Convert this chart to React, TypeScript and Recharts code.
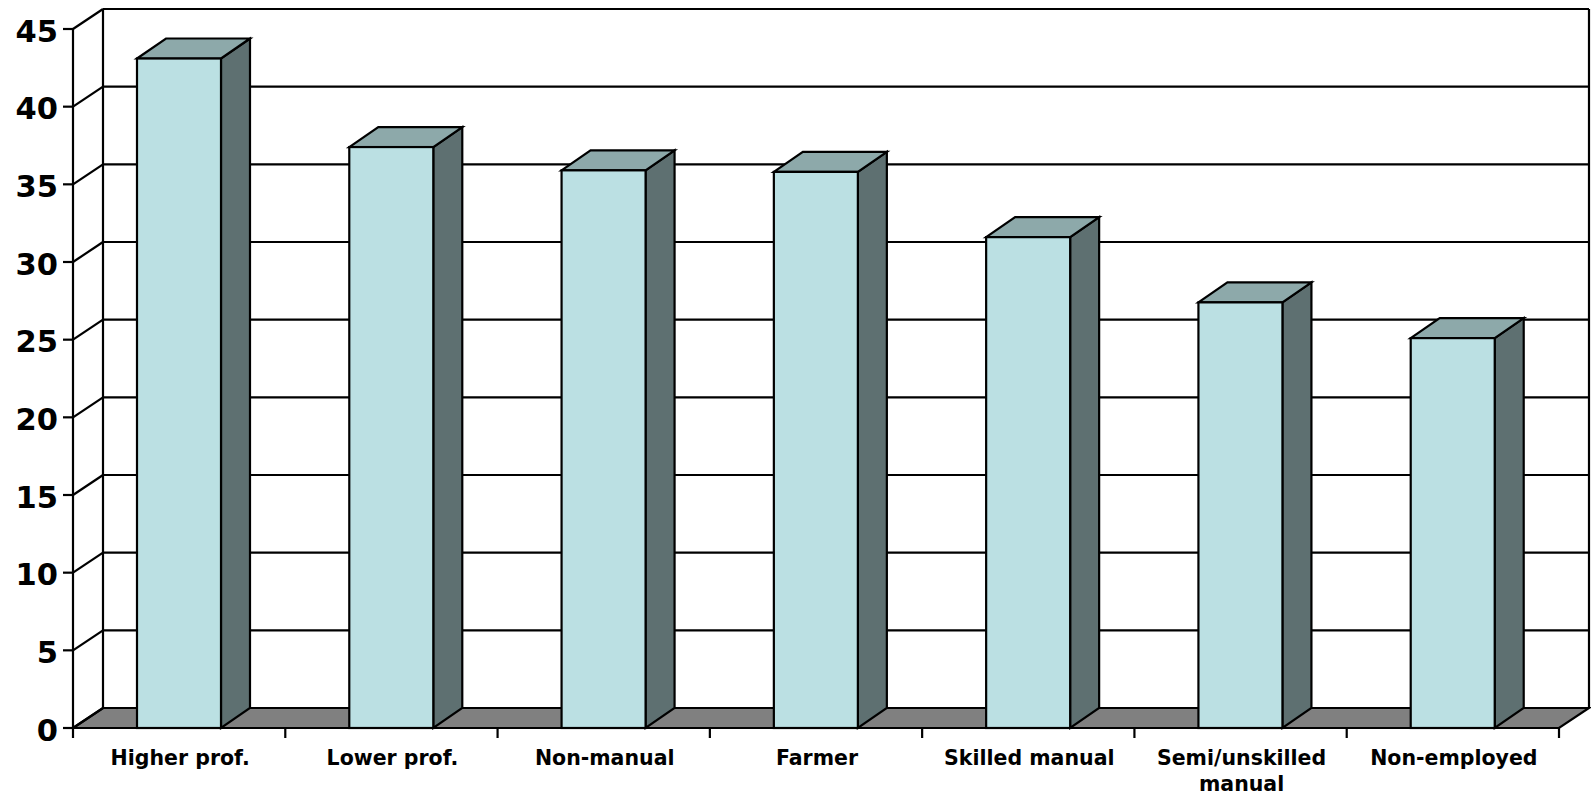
import React from 'react';
import { BarChart, Bar, XAxis, YAxis, CartesianGrid } from 'recharts';

const categories = [
  'Higher prof.',
  'Lower prof.',
  'Non-manual',
  'Farmer',
  'Skilled manual',
  'Semi/unskilled manual',
  'Non-employed',
];
const values = [43.1, 37.4, 35.9, 35.8, 31.6, 27.4, 25.1];
const yTicks = [0, 5, 10, 15, 20, 25, 30, 35, 40, 45];

const data = categories.map((name, i) => ({ name, value: values[i] }));

// depth of the walls/floor and of each column
const WALL_DX = 30;
const WALL_DY = 20;
const BAR_DX = 29;
const BAR_DY = 20;
const LINE = 2.2;
const FONT = '"DejaVu Sans", Verdana, sans-serif';

// back wall, side wall and floor, plus the grid lines running across them
function WallLine(props: any) {
  const { x1, y1, x2, index, x, y, width, height } = props;
  const back = y1 - WALL_DY;
  const bottom = y + height;
  return (
    <g key={props.key}>
      {index === 0 && (
        <g stroke="#000" strokeWidth={LINE}>
          <polygon
            points={`${x},${bottom} ${x + WALL_DX},${bottom - WALL_DY} ${x + width + WALL_DX},${bottom - WALL_DY} ${x + width},${bottom}`}
            fill="#808080"
          />
          <line x1={x + WALL_DX} y1={y - WALL_DY} x2={x + WALL_DX} y2={bottom - WALL_DY} />
          <line x1={x + width + WALL_DX} y1={y - WALL_DY} x2={x + width + WALL_DX} y2={bottom - WALL_DY} />
        </g>
      )}
      <line x1={x1} y1={y1} x2={x1 + WALL_DX} y2={back} stroke="#000" strokeWidth={LINE} />
      <line x1={x1 + WALL_DX} y1={back} x2={x2 + WALL_DX} y2={back} stroke="#000" strokeWidth={LINE} />
    </g>
  );
}

function Column3D(props: any) {
  const { x, y, width, height } = props;
  const b = y + height;
  const r = x + width;
  return (
    <g stroke="#000" strokeWidth={LINE} strokeLinejoin="miter">
      <polygon
        points={`${r},${y} ${r + BAR_DX},${y - BAR_DY} ${r + BAR_DX},${b - BAR_DY} ${r},${b}`}
        fill="#5E7071"
      />
      <polygon
        points={`${x},${y} ${x + BAR_DX},${y - BAR_DY} ${r + BAR_DX},${y - BAR_DY} ${r},${y}`}
        fill="#8DA9AA"
      />
      <rect x={x} y={y} width={width} height={height} fill="#BBE0E3" />
    </g>
  );
}

function ValueTick(props: any) {
  const { x, y, payload } = props;
  return (
    <text x={x} y={y + 12.5} textAnchor="end" fontFamily={FONT} fontWeight="bold" fontSize={30.5} fill="#000">
      {payload.value}
    </text>
  );
}

function wrapLabel(label: string): string[] {
  if (label.length <= 15) return [label];
  const cut = label.lastIndexOf(' ');
  return [label.slice(0, cut), label.slice(cut + 1)];
}

function CategoryTick(props: any) {
  const { x, y, payload, width, index } = props;
  const band = width / categories.length;
  const lines = wrapLabel(payload.value);
  const last = index === categories.length - 1;
  return (
    <g>
      <line x1={x - band / 2} y1={y} x2={x - band / 2} y2={y + 10} stroke="#000" strokeWidth={LINE} />
      {last && <line x1={x + band / 2} y1={y} x2={x + band / 2} y2={y + 10} stroke="#000" strokeWidth={LINE} />}
      <text textAnchor="middle" fontFamily={FONT} fontWeight="bold" fontSize={20.5} fill="#000">
        {lines.map((t, i) => (
          <tspan key={t} x={x + 1} y={y + 37 + i * 26}>
            {t}
          </tspan>
        ))}
      </text>
    </g>
  );
}

export default function App() {
  return (
    <div style={{ width: 1591, height: 797, background: '#fff' }}>
      <style>{'body{margin:0}'}</style>
      <BarChart
        width={1591}
        height={797}
        data={data}
        margin={{ top: 29, right: 32, bottom: 0, left: 0 }}
        barSize={84}
      >
        <CartesianGrid vertical={false} horizontal={WallLine} />
        <XAxis
          dataKey="name"
          height={69}
          interval={0}
          tickSize={0}
          tickMargin={0}
          tickLine={false}
          axisLine={{ stroke: '#000', strokeWidth: LINE }}
          tick={CategoryTick}
        />
        <YAxis
          width={73}
          domain={[0, 45]}
          ticks={yTicks}
          interval={0}
          tickSize={10}
          tickMargin={5}
          tickLine={{ stroke: '#000', strokeWidth: LINE }}
          axisLine={{ stroke: '#000', strokeWidth: LINE }}
          tick={ValueTick}
        />
        <Bar dataKey="value" shape={Column3D} isAnimationActive={false} />
      </BarChart>
    </div>
  );
}
